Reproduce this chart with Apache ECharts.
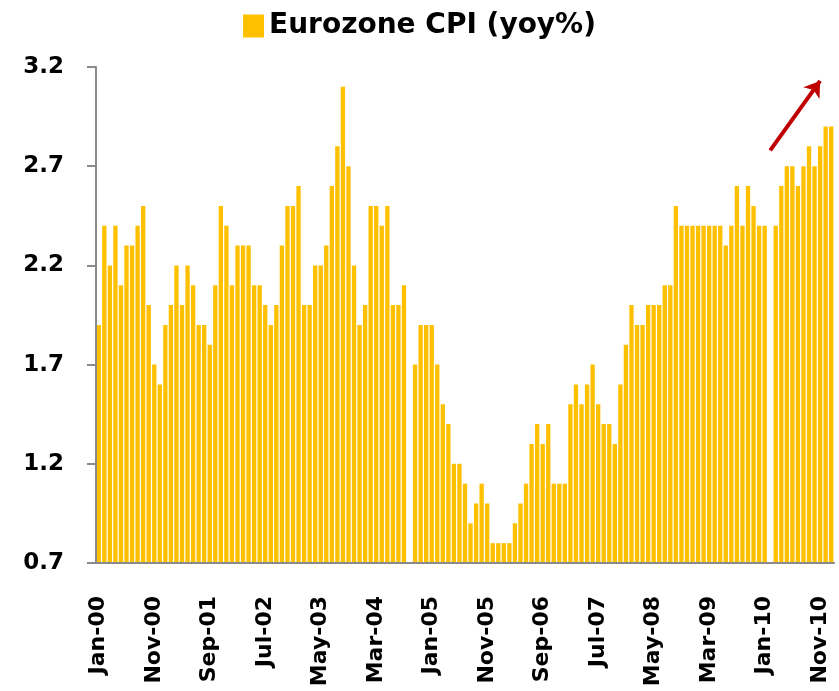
<!DOCTYPE html>
<html>
<head>
<meta charset="utf-8">
<script src="https://cdn.jsdelivr.net/npm/echarts@6/dist/echarts.min.js"></script>
<style>
  html, body { margin: 0; padding: 0; background: #fff; }
  #chart { width: 839px; height: 691px; }
</style>
</head>
<body>
<div id="chart"></div>
<script>
// months Jan-00 .. Jan-11
const monthNames = ["Jan", "Feb", "Mar", "Apr", "May", "Jun", "Jul", "Aug", "Sep", "Oct", "Nov", "Dec"];
const years = ["00", "01", "02", "03", "04", "05", "06", "07", "08", "09", "10", "11"];

const categories = [];
years.forEach((y) => {
  monthNames.forEach((m) => {
    if (categories.length < 133) categories.push(m + "-" + y);
  });
});

// yoy %, null = no bar
const cpi2000 = [1.9, 2.4, 2.2, 2.4, 2.1, 2.3, 2.3, 2.4, 2.5, 2.0, 1.7, 1.6];
const cpi2001 = [1.9, 2.0, 2.2, 2.0, 2.2, 2.1, 1.9, 1.9, 1.8, 2.1, 2.5, 2.4];
const cpi2002 = [2.1, 2.3, 2.3, 2.3, 2.1, 2.1, 2.0, 1.9, 2.0, 2.3, 2.5, 2.5];
const cpi2003 = [2.6, 2.0, 2.0, 2.2, 2.2, 2.3, 2.6, 2.8, 3.1, 2.7, 2.2, 1.9];
const cpi2004 = [2.0, 2.5, 2.5, 2.4, 2.5, 2.0, 2.0, 2.1, null, 1.7, 1.9, 1.9];
const cpi2005 = [1.9, 1.7, 1.5, 1.4, 1.2, 1.2, 1.1, 0.9, 1.0, 1.1, 1.0, 0.8];
const cpi2006 = [0.8, 0.8, 0.8, 0.9, 1.0, 1.1, 1.3, 1.4, 1.3, 1.4, 1.1, 1.1];
const cpi2007 = [1.1, 1.5, 1.6, 1.5, 1.6, 1.7, 1.5, 1.4, 1.4, 1.3, 1.6, 1.8];
const cpi2008 = [2.0, 1.9, 1.9, 2.0, 2.0, 2.0, 2.1, 2.1, 2.5, 2.4, 2.4, 2.4];
const cpi2009 = [2.4, 2.4, 2.4, 2.4, 2.4, 2.3, 2.4, 2.6, 2.4, 2.6, 2.5, 2.4];
const cpi2010 = [2.4, null, 2.4, 2.6, 2.7, 2.7, 2.6, 2.7, 2.8, 2.7, 2.8, 2.9];
const cpi2011 = [2.9];

const values = [].concat(cpi2000, cpi2001, cpi2002, cpi2003, cpi2004, cpi2005,
  cpi2006, cpi2007, cpi2008, cpi2009, cpi2010, cpi2011);

// hand-drawn arrow at the end
const arrowFrom = ["Feb-10", 2.78];
const arrowTo = ["Nov-10", 3.13];

const axisGrey = "#8a8a8a";
const font = "DejaVu Sans";

const chart = echarts.init(document.getElementById("chart"));
chart.setOption({
  animation: false,
  backgroundColor: "#fff",
  legend: {
    data: ["Eurozone CPI (yoy%)"],
    top: 7,
    left: "center",
    itemWidth: 21,
    itemHeight: 23,
    itemGap: 8,
    icon: "rect",
    textStyle: {
      fontFamily: font,
      fontWeight: "bold",
      fontSize: 28,
      color: "#000"
    }
  },
  grid: {
    left: 96,
    right: 5,
    top: 67,
    bottom: 128
  },
  xAxis: {
    type: "category",
    data: categories,
    boundaryGap: true,
    z: 5,
    axisLine: { lineStyle: { color: axisGrey, width: 2 } },
    axisTick: {
      interval: 9,
      length: 8,
      lineStyle: { color: axisGrey, width: 2 }
    },
    axisLabel: {
      interval: 9,
      rotate: 90,
      margin: 33,
      fontFamily: font,
      fontWeight: "bold",
      fontSize: 22,
      color: "#000"
    },
    splitLine: { show: false }
  },
  yAxis: {
    type: "value",
    min: 0.7,
    max: 3.2,
    interval: 0.5,
    z: 5,
    axisLine: { show: true, lineStyle: { color: axisGrey, width: 2 } },
    axisTick: { show: true, length: 9, lineStyle: { color: axisGrey, width: 2 } },
    axisLabel: {
      margin: 32,
      fontFamily: font,
      fontWeight: "bold",
      fontSize: 23,
      color: "#000",
      formatter: (v) => v.toFixed(1)
    },
    splitLine: { show: false }
  },
  series: [
    {
      name: "Eurozone CPI (yoy%)",
      type: "bar",
      z: 1,
      data: values,
      barCategoryGap: "22%",
      itemStyle: { color: "#FFC000" },
      markLine: {
        silent: true,
        z: 6,
        symbol: ["none", "arrow"],
        symbolSize: 15,
        label: { show: false },
        lineStyle: { color: "#C00000", width: 4, type: "solid" },
        data: [[{ coord: arrowFrom }, { coord: arrowTo }]]
      }
    }
  ]
});
</script>
</body>
</html>
